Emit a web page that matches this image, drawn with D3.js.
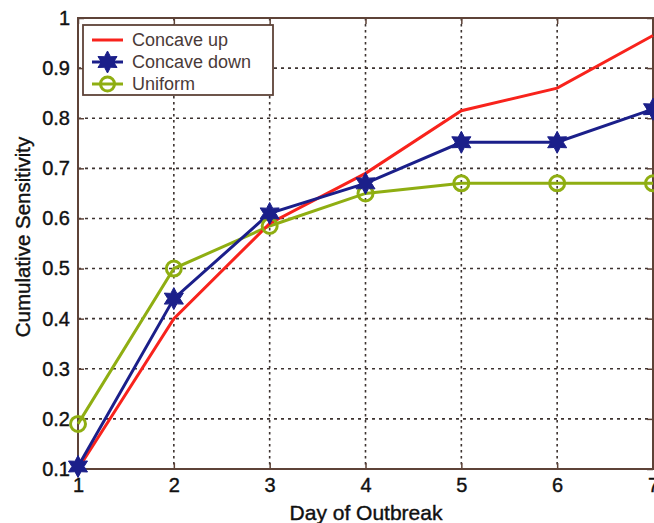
<!DOCTYPE html>
<html>
<head>
<meta charset="utf-8">
<script src="https://cdn.jsdelivr.net/npm/d3@7"></script>
<style>
  html, body { margin: 0; padding: 0; background: #fff; }
  svg { display: block; font-family: "Liberation Sans", Arial, sans-serif; }
</style>
</head>
<body>
<svg id="chart" width="654" height="523"></svg>
<script>
const days = [1, 2, 3, 4, 5, 6, 7];
const concaveUp = [0.10, 0.40, 0.59, 0.69, 0.815, 0.86, 0.965];
const concaveDown = [0.105, 0.44, 0.61, 0.67, 0.752, 0.752, 0.818];
const uniform = [0.19, 0.50, 0.585, 0.65, 0.67, 0.67, 0.67];
const yTicks = [0.1, 0.2, 0.3, 0.4, 0.5, 0.6, 0.7, 0.8, 0.9, 1];
const seriesNames = ["Concave up", "Concave down", "Uniform"];

const LEFT = 78, RIGHT = 653, TOP = 18, BOTTOM = 469;
const FRAME = "#5e4338";
const GRID = "#3d3330";

const svg = d3.select("#chart");
const x = d3.scaleLinear().domain([1, 7]).range([LEFT, RIGHT]);
const y = d3.scaleLinear().domain([0.1, 1]).range([BOTTOM, TOP]);

// grid lines (dotted)
const grid = svg.append("g");
grid.selectAll("line.v").data(days.slice(1, -1)).join("line")
  .attr("x1", d => x(d)).attr("x2", d => x(d))
  .attr("y1", TOP).attr("y2", BOTTOM)
  .attr("stroke", GRID).attr("stroke-width", 1.6)
  .attr("stroke-dasharray", "2.5,3.5");
grid.selectAll("line.h").data(yTicks.slice(1, -1)).join("line")
  .attr("x1", LEFT).attr("x2", RIGHT)
  .attr("y1", d => y(d)).attr("y2", d => y(d))
  .attr("stroke", GRID).attr("stroke-width", 1.6)
  .attr("stroke-dasharray", "3,4");

// axes with inner ticks
const bottomAxis = svg.append("g").attr("transform", `translate(0,${BOTTOM})`)
  .call(d3.axisBottom(x).tickValues(days).tickSize(-6).tickPadding(9).tickFormat(d3.format("d")));
const topAxis = svg.append("g").attr("transform", `translate(0,${TOP})`)
  .call(d3.axisTop(x).tickValues(days).tickSize(-6).tickFormat(""));
const leftAxis = svg.append("g").attr("transform", `translate(${LEFT},0)`)
  .call(d3.axisLeft(y).tickValues(yTicks).tickSize(-6).tickPadding(8).tickFormat(d => d === 1 ? "1" : d3.format(".1f")(d)));
const rightAxis = svg.append("g").attr("transform", `translate(${RIGHT},0)`)
  .call(d3.axisRight(y).tickValues(yTicks).tickSize(-6).tickFormat(""));

[bottomAxis, topAxis, leftAxis, rightAxis].forEach(a => {
  a.select(".domain").remove();
  a.selectAll(".tick line").attr("stroke", FRAME).attr("stroke-width", 1.5);
  a.selectAll("text").attr("font-size", 20).attr("fill", "#111")
    .attr("stroke", "#111").attr("stroke-width", 0.4)
    .attr("font-family", "Liberation Sans, Arial, sans-serif");
});

// frame
svg.append("rect")
  .attr("x", LEFT).attr("y", TOP)
  .attr("width", RIGHT - LEFT).attr("height", BOTTOM - TOP)
  .attr("fill", "none").attr("stroke", FRAME).attr("stroke-width", 2);

// axis titles
svg.append("text")
  .attr("x", 366).attr("y", 520)
  .attr("text-anchor", "middle")
  .attr("font-size", 21).attr("fill", "#111")
  .attr("stroke", "#111").attr("stroke-width", 0.4)
  .text("Day of Outbreak");
svg.append("text")
  .attr("transform", "translate(30,237) rotate(-90)")
  .attr("text-anchor", "middle")
  .attr("font-size", 20.5).attr("fill", "#111")
  .attr("stroke", "#111").attr("stroke-width", 0.4)
  .text("Cumulative Sensitivity");

const line = d3.line().x((d, i) => x(days[i])).y(d => y(d));
const RED = "#f8231c", BLUE = "#1b1f8a", GREEN = "#8fae12";

function hexagram(r) {
  const pts = [];
  for (let k = 0; k < 12; k++) {
    const a = -Math.PI / 2 + k * Math.PI / 6;
    const rr = k % 2 === 0 ? r : r * 0.55;
    pts.push([rr * Math.cos(a), rr * Math.sin(a)]);
  }
  return "M" + pts.map(p => p.join(",")).join("L") + "Z";
}

const plot = svg.append("g");
plot.append("path").datum(uniform).attr("d", line)
  .attr("fill", "none").attr("stroke", GREEN).attr("stroke-width", 3);
plot.append("path").datum(concaveUp).attr("d", line)
  .attr("fill", "none").attr("stroke", RED).attr("stroke-width", 3);
plot.append("path").datum(concaveDown).attr("d", line)
  .attr("fill", "none").attr("stroke", BLUE).attr("stroke-width", 3);

plot.selectAll("circle.u").data(uniform).join("circle")
  .attr("cx", (d, i) => x(days[i])).attr("cy", d => y(d))
  .attr("r", 7.5).attr("fill", "none").attr("stroke", GREEN).attr("stroke-width", 3);
plot.selectAll("path.s").data(concaveDown).join("path")
  .attr("transform", (d, i) => `translate(${x(days[i])},${y(d)})`)
  .attr("d", hexagram(11)).attr("fill", BLUE).attr("stroke", BLUE).attr("stroke-width", 1);

// legend
const lg = svg.append("g");
lg.append("rect").attr("x", 83).attr("y", 25).attr("width", 190).attr("height", 70)
  .attr("fill", "#fff").attr("stroke", FRAME).attr("stroke-width", 1.8);
const legendColors = [RED, BLUE, GREEN];
seriesNames.forEach((name, i) => {
  const ly = 40 + i * 22;
  lg.append("line").attr("x1", 92).attr("x2", 123).attr("y1", ly).attr("y2", ly)
    .attr("stroke", legendColors[i]).attr("stroke-width", 3);
  if (i === 1) {
    lg.append("path").attr("transform", `translate(107.5,${ly})`).attr("d", hexagram(11))
      .attr("fill", BLUE).attr("stroke", BLUE);
  }
  if (i === 2) {
    lg.append("circle").attr("cx", 107.5).attr("cy", ly).attr("r", 7)
      .attr("fill", "none").attr("stroke", GREEN).attr("stroke-width", 3);
  }
  lg.append("text").attr("x", 132).attr("y", ly + 6)
    .attr("font-size", 18).attr("fill", "#4a3a38").text(name);
});
</script>
</body>
</html>
